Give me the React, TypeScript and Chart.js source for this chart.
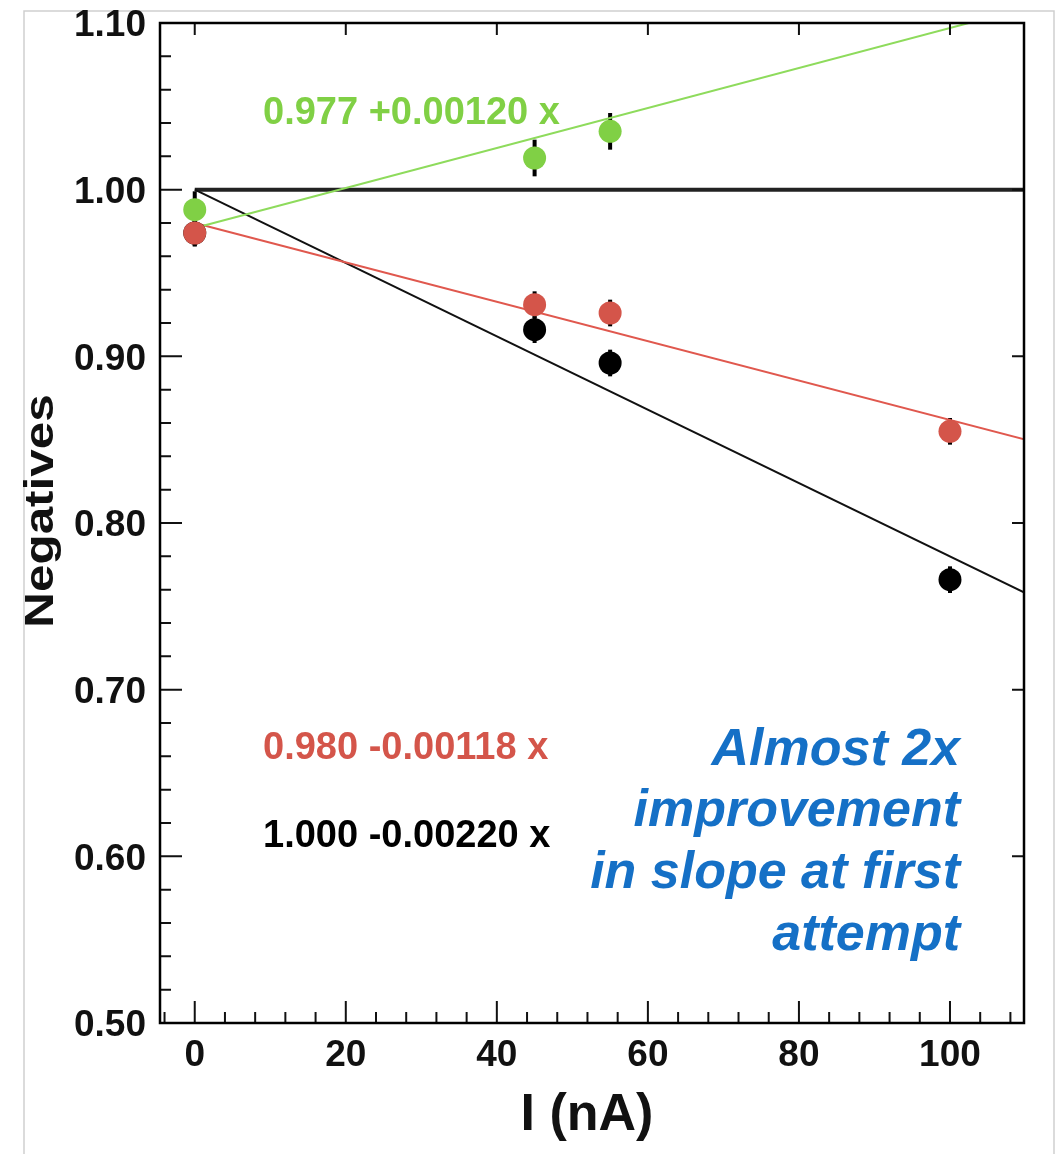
import React, { useEffect, useRef } from "react";
import { Chart, registerables } from "chart.js";

Chart.register(...registerables);

// ---- data ----
const currents = [0, 45, 55, 100];
const blackValues = [0.974, 0.916, 0.896, 0.766];
const blackErrors = [0.008, 0.008, 0.008, 0.008];
const redValues = [0.974, 0.931, 0.926, 0.855];
const redErrors = [0.008, 0.008, 0.008, 0.008];
const greenCurrents = [0, 45, 55];
const greenValues = [0.988, 1.019, 1.035];
const greenErrors = [0.011, 0.011, 0.011];

const fitRange = [0, 110];
const blackFit = [1.0, 0.758];
const redFit = [0.98, 0.85];
const greenFit = [0.977, 1.109];
const referenceLine = [1.0, 1.0];

const xTickValues = [0, 20, 40, 60, 80, 100];
const xTickLabels = ["0", "20", "40", "60", "80", "100"];
const yTickValues = [0.5, 0.6, 0.7, 0.8, 0.9, 1.0, 1.1];
const yTickLabels = ["0.50", "0.60", "0.70", "0.80", "0.90", "1.00", "1.10"];

const greenLabel = "0.977 +0.00120 x";
const redLabel = "0.980 -0.00118 x";
const blackLabel = "1.000 -0.00220 x";
const noteLines = ["Almost 2x", "improvement", "in slope at first", "attempt"];
const xTitle = "I (nA)";
const yTitle = "Negatives";

const X_MIN = -4.6;
const X_MAX = 109.8;
const Y_MIN = 0.5;
const Y_MAX = 1.1;

const GREEN = "#80d045";
const RED = "#d4554a";
const BLUE = "#1570c6";
const FONT = "'Liberation Sans', Arial, Helvetica, sans-serif";

const toPts = (xs: number[], ys: number[]) => xs.map((x, i) => ({ x, y: ys[i] }));

const decorPlugin = {
  id: "decor",
  beforeDraw(chart: any) {
    const ctx = chart.ctx;
    ctx.save();
    ctx.fillStyle = "#ffffff";
    ctx.fillRect(0, 0, chart.width, chart.height);
    ctx.strokeStyle = "#cfcfcf";
    ctx.lineWidth = 1.5;
    ctx.beginPath();
    ctx.moveTo(24, chart.height + 2);
    ctx.lineTo(24, 11);
    ctx.lineTo(1054, 11);
    ctx.lineTo(1054, chart.height + 2);
    ctx.stroke();
    ctx.restore();
  },
  beforeDatasetsDraw(chart: any) {
    const ctx = chart.ctx;
    const xs = chart.scales.x;
    const ys = chart.scales.y;
    ctx.save();
    ctx.strokeStyle = "#000";
    ctx.lineWidth = 4;
    const bars = (xv: number[], yv: number[], ev: number[]) => {
      xv.forEach((x, i) => {
        const px = xs.getPixelForValue(x);
        ctx.beginPath();
        ctx.moveTo(px, ys.getPixelForValue(yv[i] - ev[i]));
        ctx.lineTo(px, ys.getPixelForValue(yv[i] + ev[i]));
        ctx.stroke();
      });
    };
    bars(currents, blackValues, blackErrors);
    bars(currents, redValues, redErrors);
    bars(greenCurrents, greenValues, greenErrors);
    ctx.restore();
  },
  afterDraw(chart: any) {
    const ctx = chart.ctx;
    const a = chart.chartArea;
    const xs = chart.scales.x;
    const ys = chart.scales.y;
    ctx.save();
    // ticks
    ctx.strokeStyle = "#111";
    ctx.lineWidth = 2;
    const majorLen = 22;
    const minorLen = 11;
    const mirrorLen = 12;
    ctx.beginPath();
    for (let k = 0; k < xTickValues.length; k++) {
      const px = xs.getPixelForValue(xTickValues[k]);
      ctx.moveTo(px, a.bottom);
      ctx.lineTo(px, a.bottom - majorLen);
      ctx.moveTo(px, a.top);
      ctx.lineTo(px, a.top + mirrorLen);
    }
    const xStep = (xTickValues[1] - xTickValues[0]) / 5;
    for (let v = xTickValues[0] - xStep; v <= X_MAX + 1e-9; v += xStep) {
      if (v < X_MIN) continue;
      const isMajor = xTickValues.some((t) => Math.abs(t - v) < 1e-6);
      if (isMajor) continue;
      const px = xs.getPixelForValue(v);
      ctx.moveTo(px, a.bottom);
      ctx.lineTo(px, a.bottom - minorLen);
    }
    for (let k = 0; k < yTickValues.length; k++) {
      const py = ys.getPixelForValue(yTickValues[k]);
      ctx.moveTo(a.left, py);
      ctx.lineTo(a.left + majorLen, py);
      ctx.moveTo(a.right, py);
      ctx.lineTo(a.right - mirrorLen, py);
    }
    const yStep = (yTickValues[1] - yTickValues[0]) / 5;
    for (let v = Y_MIN; v <= Y_MAX + 1e-9; v += yStep) {
      const isMajor = yTickValues.some((t) => Math.abs(t - v) < 1e-6);
      if (isMajor) continue;
      const py = ys.getPixelForValue(v);
      ctx.moveTo(a.left, py);
      ctx.lineTo(a.left + minorLen, py);
    }
    ctx.stroke();

    // frame
    ctx.strokeStyle = "#000";
    ctx.lineWidth = 2.5;
    ctx.strokeRect(a.left, a.top, a.right - a.left, a.bottom - a.top);

    // tick labels
    ctx.fillStyle = "#111";
    ctx.font = `bold 37px ${FONT}`;
    ctx.textAlign = "center";
    ctx.textBaseline = "middle";
    xTickValues.forEach((v, i) => {
      ctx.fillText(xTickLabels[i], xs.getPixelForValue(v), a.bottom + 33);
    });
    ctx.textAlign = "right";
    yTickValues.forEach((v, i) => {
      ctx.fillText(yTickLabels[i], a.left - 14, ys.getPixelForValue(v) + 3);
    });

    // axis titles
    ctx.font = `bold 52px ${FONT}`;
    ctx.textAlign = "center";
    ctx.textBaseline = "alphabetic";
    ctx.fillText(xTitle, 587, 1130);

    ctx.save();
    ctx.translate(53, 511);
    ctx.rotate(-Math.PI / 2);
    ctx.scale(1.3, 1.05);
    ctx.font = `bold 38px ${FONT}`;
    ctx.textAlign = "center";
    ctx.fillText(yTitle, 0, 0);
    ctx.restore();

    // fit labels
    ctx.font = `bold 38px ${FONT}`;
    ctx.textAlign = "left";
    ctx.fillStyle = GREEN;
    ctx.fillText(greenLabel, 263, 124);
    ctx.fillStyle = RED;
    ctx.fillText(redLabel, 263, 759);
    ctx.fillStyle = "#000";
    ctx.fillText(blackLabel, 263, 847);

    // note
    ctx.font = `italic bold 52px ${FONT}`;
    ctx.textAlign = "right";
    ctx.fillStyle = BLUE;
    const baselines = [765, 826, 888, 950];
    noteLines.forEach((t, i) => ctx.fillText(t, 960, baselines[i]));

    ctx.restore();
  },
};

export default function App() {
  const ref = useRef<HTMLCanvasElement | null>(null);

  useEffect(() => {
    if (!ref.current) return;
    const line = (data: any[], color: string, width: number, order: number) => ({
      type: "line" as const,
      data,
      borderColor: color,
      borderWidth: width,
      pointRadius: 0,
      fill: false,
      showLine: true,
      order,
    });
    const points = (data: any[], color: string, order: number) => ({
      type: "scatter" as const,
      data,
      backgroundColor: color,
      borderColor: color,
      borderWidth: 0,
      pointRadius: 11.5,
      pointHoverRadius: 11.5,
      showLine: false,
      order,
    });
    const chart = new Chart(ref.current, {
      type: "scatter",
      data: {
        datasets: [
          points(toPts(greenCurrents, greenValues), GREEN, 0),
          points(toPts(currents, redValues), RED, 1),
          points(toPts(currents, blackValues), "#000", 2),
          line(toPts(fitRange, greenFit), "#8edb5c", 2, 3),
          line(toPts(fitRange, redFit), "#e0584e", 2, 4),
          line(toPts(fitRange, blackFit), "#111", 2, 5),
          line(toPts([0, 110], referenceLine), "#222", 4, 6),
        ] as any,
      },
      options: {
        responsive: false,
        animation: false,
        layout: { padding: { left: 160, top: 23, right: 34, bottom: 131 } },
        scales: {
          x: { type: "linear", min: X_MIN, max: X_MAX, display: false },
          y: { type: "linear", min: Y_MIN, max: Y_MAX, display: false },
        },
        plugins: {
          legend: { display: false },
          tooltip: { enabled: false },
        },
        events: [],
      },
      plugins: [decorPlugin],
    });
    return () => chart.destroy();
  }, []);

  return (
    <div style={{ position: "absolute", left: 0, top: 0, width: 1058, height: 1154 }}>
      <canvas ref={ref} width={1058} height={1154} style={{ width: 1058, height: 1154, display: "block" }} />
    </div>
  );
}
